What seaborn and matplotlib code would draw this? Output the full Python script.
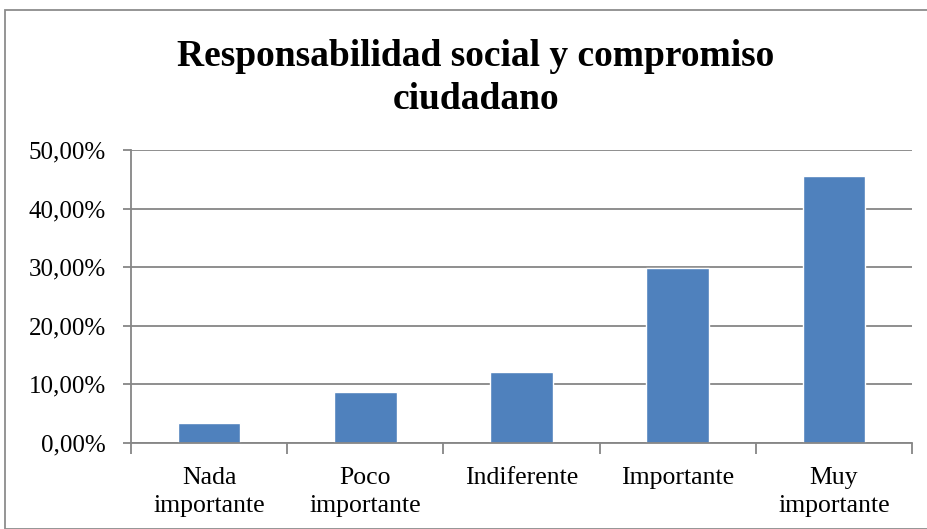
import matplotlib
matplotlib.use("Agg")
import matplotlib.pyplot as plt
import seaborn as sns
import pandas as pd
from matplotlib.patches import Rectangle
from matplotlib.ticker import FuncFormatter, FixedLocator

categories = ["Nada\nimportante", "Poco\nimportante", "Indiferente", "Importante", "Muy\nimportante"]
values = [3.4, 8.7, 12.2, 29.9, 45.6]
title = "Responsabilidad social y compromiso\nciudadano"

sns.set_theme(style="white")
plt.rcParams['font.family'] = ['Liberation Serif', 'DejaVu Serif']
plt.rcParams['text.color'] = 'black'

df = pd.DataFrame({"cat": categories, "val": values})

fig = plt.figure(figsize=(9.27, 5.29), dpi=100)
ax = fig.add_axes([131/927, 1-443/529, (912-131)/927, (443-150)/529])

sns.barplot(data=df, x="cat", y="val", color="#4F81BD", saturation=1, width=0.4, ax=ax, zorder=3)

grid_c = "#868686"
ax.set_ylim(0, 50)
ax.set_xlim(-0.5, len(categories)-0.5)
ax.set_yticks([0, 10, 20, 30, 40, 50])
ax.yaxis.set_major_formatter(FuncFormatter(lambda v, p: f"{v:.2f}".replace(".", ",") + "%"))
ax.grid(axis="y", color=grid_c, linewidth=1.3, zorder=0)
ax.set_axisbelow(True)
for s in ["top", "right"]:
    ax.spines[s].set_visible(False)
for s in ["left", "bottom"]:
    ax.spines[s].set_color(grid_c)
    ax.spines[s].set_linewidth(1.3)
ax.spines["bottom"].set_zorder(4)

ax.set_xlabel("")
ax.set_ylabel("")
ax.tick_params(axis="x", which="major", length=0, labelsize=18.5, pad=17, labelcolor="black")
ax.xaxis.set_minor_locator(FixedLocator([i - 0.5 for i in range(len(categories)+1)]))
ax.tick_params(axis="x", which="minor", length=8, width=1.3, color=grid_c, bottom=True)
ax.tick_params(axis="y", which="major", length=6, width=1.3, color=grid_c, labelsize=18,
               pad=12, left=True, labelcolor="black")
for lbl in ax.get_xticklabels():
    lbl.set_linespacing(1.4)

fig.text(476/927, 1-78/529, title, ha="center", va="center", fontsize=27, fontweight="bold",
         linespacing=1.3, color="black")

fig.patches.append(Rectangle((5/927, 0), 1.2, 1-10/529, transform=fig.transFigure,
                             fill=False, edgecolor="#8c8c8c", linewidth=1.3))

fig.savefig("out.png", dpi=100)
